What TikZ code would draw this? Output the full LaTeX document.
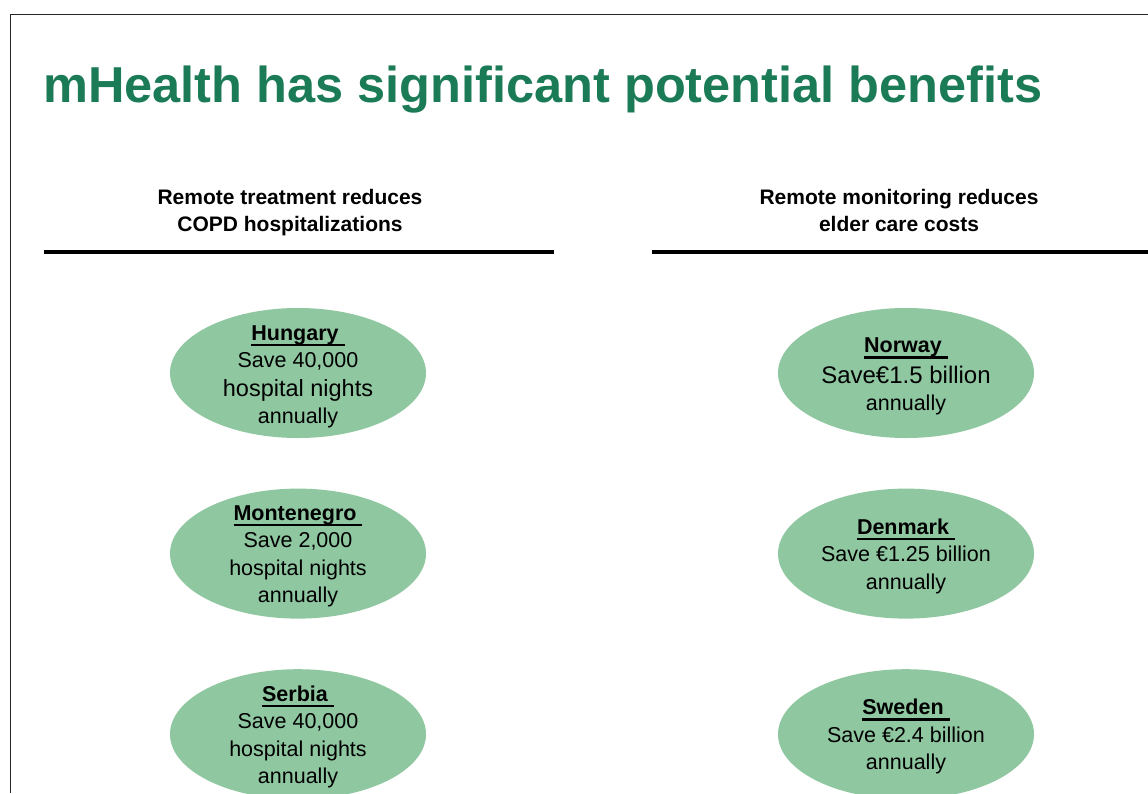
\documentclass[tikz,border=0pt]{standalone}
\usepackage{fontspec}
\setmainfont{Liberation Sans}
\usetikzlibrary{positioning, shapes.geometric}

\definecolor{titlegreen}{RGB}{27,123,87}
\definecolor{ovalgreen}{RGB}{143,199,161}

% bold country name with a heavy underline
\newcommand{\cname}[1]{\setbox0=\hbox{\bfseries #1\ }\rlap{\rule[-6pt]{\wd0}{2.4pt}}\box0}

\begin{document}
\begin{tikzpicture}[
            x = 1pt,
            y = -1pt,
            node distance = 50pt,
            semithick
        ]

        \tikzstyle{country}=[
            ellipse,
            draw = none,
            fill = ovalgreen,
            minimum width = 256pt,
            minimum height = 130pt
        ]
        \tikzstyle{info}=[
            align = center,
            inner sep = 0pt,
            yshift = -2.5pt,
            font = \fontsize{21.5}{27.5}\selectfont
        ]
        \tikzstyle{heading}=[
            align = center,
            inner sep = 0pt,
            font = \fontsize{21}{27}\selectfont\bfseries
        ]

        \useasboundingbox (0,0) rectangle (1148,793);
        \fill[white] (0,0) rectangle (1148,793);
        % slide frame
        \draw[line width=1pt, black!85] (10,793) -- (10,14) -- (1148,14);

        \node[anchor=base west, inner sep=0pt, text=titlegreen,
              font=\fontsize{50.5}{60}\selectfont\bfseries] (title) at (43,102)
              {mHealth has significant potential benefits};

        \node[heading] (copd) at (290,212.5) {Remote treatment reduces\\COPD hospitalizations};
        \node[heading] (elder) at (899,210.5) {Remote monitoring reduces\\elder care costs};

        \coordinate (rulea) at (44,252);
        \coordinate (ruleb) at (554,252);
        \coordinate (rulec) at (652,252);
        \coordinate (ruled) at (1148,252);
        \draw[line width=3.5pt] (rulea) -- (ruleb);
        \draw[line width=3.5pt] (rulec) -- (ruled);

        \node[country] (hungary) at (298,373) {};
        \node[country] (montenegro) [below=of hungary] {};
        \node[country] (serbia) [below=of montenegro] {};
        \node[country] (norway) at (906,373) {};
        \node[country] (denmark) [below=of norway] {};
        \node[country] (sweden) [below=of denmark] {};

        \node[info, yshift=-1.5pt] (hungary-txt) at (hungary) {\cname{Hungary}\\Save 40,000\\[1pt]{\fontsize{23.5}{27}\selectfont hospital nights}\\annually};
        \node[info] (montenegro-txt) at (montenegro) {\cname{Montenegro}\\Save 2,000\\hospital nights\\annually};
        \node[info] (serbia-txt) at (serbia) {\cname{Serbia}\\Save 40,000\\hospital nights\\annually};
        \node[info, yshift=-1pt] (norway-txt) at (norway) {\cname{Norway}\\[3pt]{\fontsize{24}{27}\selectfont Save€1.5 billion}\\annually};
        \node[info] (denmark-txt) at (denmark) {\cname{Denmark}\\Save €1.25 billion\\annually};
        \node[info] (sweden-txt) at (sweden) {\cname{Sweden}\\Save €2.4 billion\\annually};

    \end{tikzpicture}
\end{document}
